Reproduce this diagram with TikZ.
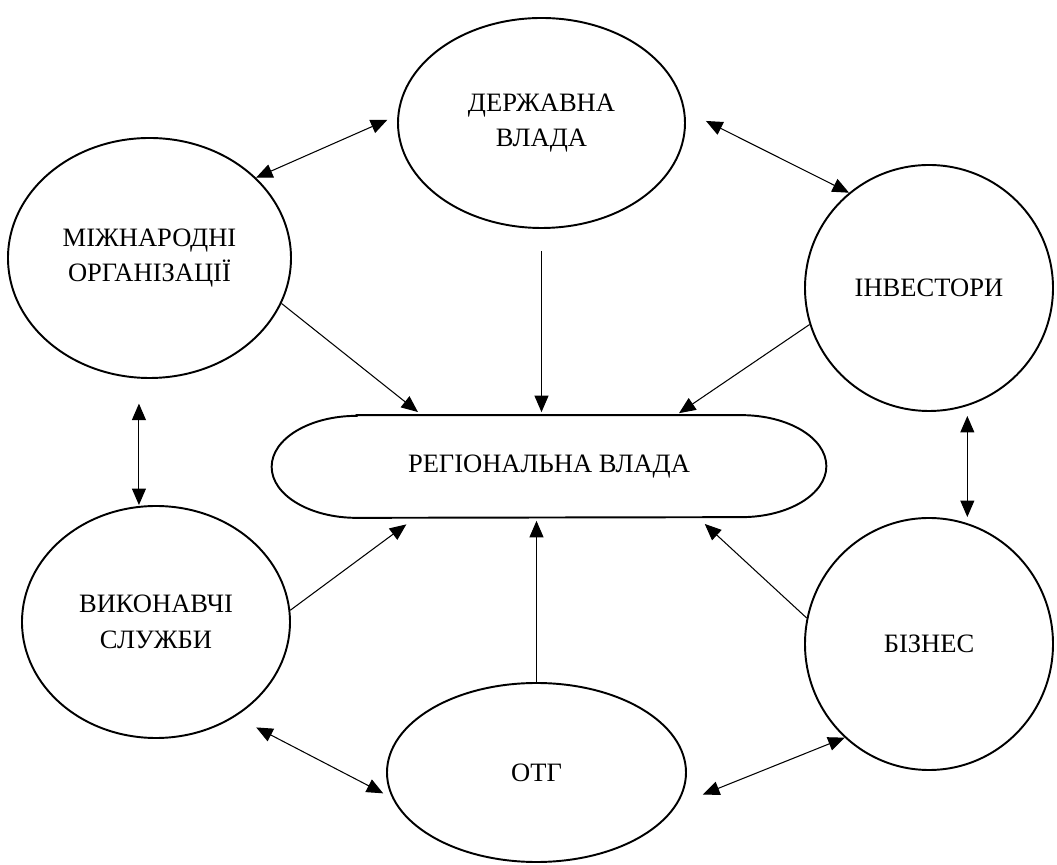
\documentclass[tikz,border=0pt]{standalone}
\usepackage{fontspec}
\setmainfont{Liberation Serif}
\usetikzlibrary{shapes.geometric,arrows.meta}

\begin{document}
\begin{tikzpicture}[node distance=1.5cm]
    \tikzstyle{actor} = [ellipse, draw, line width=1.1pt, inner sep=0pt, align=center, font=\fontsize{15.1}{20.2}\selectfont]
    \tikzstyle{hub} = [rectangle, minimum width=11.08cm, minimum height=2.04cm, inner sep=0pt, align=center, font=\fontsize{15.1}{20.2}\selectfont]
    \tikzstyle{link} = [line width=0.6pt, -{Triangle[length=0.33cm,width=0.28cm]}]
    \tikzstyle{dlink} = [line width=0.6pt, {Triangle[length=0.33cm,width=0.28cm]}-{Triangle[length=0.33cm,width=0.28cm]}]

    \useasboundingbox (-10.98,-7.97) rectangle (10.16,9.33);

    % Central node
    \node [hub] (rv) {РЕГІОНАЛЬНА ВЛАДА};
    \draw [line width=1.1pt] ([xshift=1.7cm]rv.north west) -- ([xshift=-1.7cm]rv.north east)
        arc [start angle=90, end angle=-90, x radius=1.7cm, y radius=1.02cm]
        -- ([xshift=1.7cm]rv.south west)
        arc [start angle=270, end angle=90, x radius=1.7cm, y radius=1.02cm] -- cycle;

    % Surrounding actors
    \node [actor, minimum width=5.74cm, minimum height=4.2cm, above of=rv, xshift=-0.15cm, yshift=5.37cm] (dv) {ДЕРЖАВНА\\ВЛАДА};
    \node [actor, minimum width=5.66cm, minimum height=4.8cm, left of=rv, xshift=-6.49cm, yshift=4.17cm] (mo) {МІЖНАРОДНІ\\ОРГАНІЗАЦІЇ};
    \node [actor, minimum width=4.96cm, minimum height=4.92cm, right of=rv, xshift=6.1cm, yshift=3.57cm] (inv) {ІНВЕСТОРИ};
    \node [actor, minimum width=5.36cm, minimum height=4.64cm, left of=rv, xshift=-6.36cm, yshift=-3.11cm] (vs) {ВИКОНАВЧІ\\СЛУЖБИ};
    \node [actor, minimum width=4.96cm, minimum height=5.04cm, right of=rv, xshift=6.1cm, yshift=-3.55cm] (biz) {БІЗНЕС};
    \node [actor, minimum width=5.98cm, minimum height=3.58cm, below of=rv, xshift=-0.25cm, yshift=-4.62cm] (otg) {ОТГ};

    % Two-way links between actors
    \draw [dlink, shorten <=0.22cm] (dv.177.9) -- (mo.37.2);
    \draw [dlink, shorten <=0.47cm] (dv.5.2) -- (inv.130);
    \draw [dlink, shorten <=0.5cm] (mo.265.5) -- (mo.265.5 |- vs.north);
    \draw [dlink, shorten <=0.2cm] (inv.288.5) -- (inv.288.5 |- biz.north);
    \draw [dlink, shorten <=0.47cm, shorten >=0.2cm] (vs.-50.3) -- (otg.190.8);
    \draw [dlink, shorten <=0.56cm] (otg.-13.5) -- (biz.228);

    % Links into regional authority
    \draw [link, shorten >=0.1cm] (mo.-19.8) -- (rv.158.4);
    \draw [link, shorten <=0.44cm, shorten >=0.06cm] (dv.south) -- (dv.south |- rv.north);
    \draw [link, shorten >=0.07cm] (inv.197.7) -- (rv.22.2);
    \draw [link, shorten >=0.22cm] (vs.5.5) -- (rv.201.6);
    \draw [link, shorten >=0.06cm] (otg.north) -- (otg.north |- rv.south);
    \draw [link, shorten >=0.18cm] (biz.168) -- (rv.-19.1);
\end{tikzpicture}
\end{document}
